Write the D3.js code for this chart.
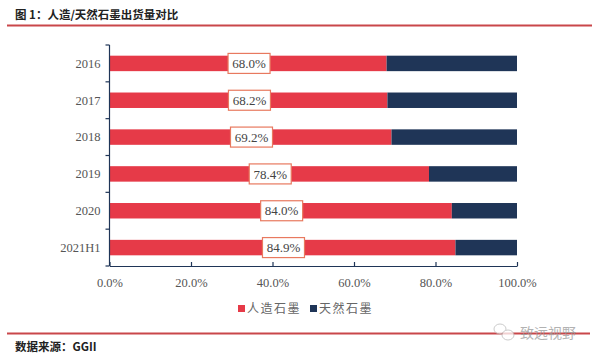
<!DOCTYPE html>
<html><head><meta charset="utf-8">
<script src="https://cdn.jsdelivr.net/npm/d3@7"></script>
<style>body{margin:0;background:#fff}svg{display:block}</style>
</head><body>
<svg id="c" width="600" height="360"></svg>
<script>
const categories = ["2016","2017","2018","2019","2020","2021H1"];
const artificial = [68.0, 68.2, 69.2, 78.4, 84.0, 84.9];
const natural = [32.0, 31.8, 30.8, 21.6, 16.0, 15.1];
const xTicks = [0, 20, 40, 60, 80, 100];
const seriesNames = ["人造石墨", "天然石墨"];
const colors = ["#e63a48", "#1f3557"];

const svg = d3.select("#c");
const serif = "'Liberation Serif','DejaVu Serif',serif";
const cjk = "'Noto Sans CJK SC','Noto Sans',sans-serif";

// title
svg.append("text").attr("x", 15).attr("y", 19).attr("font-family", cjk).attr("font-weight", "bold")
  .attr("font-size", 11.5).attr("fill", "#222").text("图 1：人造/天然石墨出货量对比");
svg.append("line").attr("x1", 7).attr("x2", 592).attr("y1", 25.5).attr("y2", 25.5)
  .attr("stroke", "#c9474a").attr("stroke-width", 2);

const x = d3.scaleLinear().domain([0, 100]).range([109.5, 517]);
const y = d3.scaleBand().domain(categories).range([45, 266]).paddingInner(0.58).paddingOuter(0.29);

const stackData = categories.map((c, i) => ({cat: c, a: artificial[i], n: natural[i]}));
const stack = d3.stack().keys(["a", "n"])(stackData);

svg.append("g").selectAll("g").data(stack).join("g").attr("fill", (d, i) => colors[i])
  .selectAll("rect").data(d => d).join("rect")
  .attr("x", d => x(d[0])).attr("width", d => x(d[1]) - x(d[0]))
  .attr("y", d => y(d.data.cat)).attr("height", y.bandwidth());

// y axis
const gy = svg.append("g").attr("transform", "translate(109.5,0)");
gy.append("path").attr("d", "M0,45V266").attr("stroke", "#1f3557").attr("stroke-width", 1.2).attr("fill", "none");
const yb = d3.scaleBand().domain(categories).range([45, 266]);
gy.selectAll("line.tk").data(d3.range(categories.length + 1)).join("line")
  .attr("x1", -4).attr("x2", 0)
  .attr("y1", i => 45 + i * yb.step()).attr("y2", i => 45 + i * yb.step())
  .attr("stroke", "#1f3557").attr("stroke-width", 1.2);
gy.selectAll("text").data(categories).join("text")
  .attr("x", -9).attr("y", d => y(d) + y.bandwidth() / 2).attr("dy", "0.35em")
  .attr("text-anchor", "end").attr("font-family", serif).attr("font-size", 12.5).attr("fill", "#555")
  .text(d => d);

// x axis
const gx = svg.append("g").attr("transform", "translate(0,266)")
  .call(d3.axisBottom(x).tickValues(xTicks).tickFormat(d => d.toFixed(1) + "%").tickSize(4).tickSizeOuter(0).tickPadding(6));
gx.select(".domain").attr("stroke", "#1f3557").attr("stroke-width", 1.2);
gx.selectAll(".tick line").attr("stroke", "#1f3557").attr("stroke-width", 1.2).attr("y2", -4);
gx.selectAll(".tick text").attr("font-family", serif).attr("font-size", 12.5).attr("fill", "#555").attr("dy", "0.9em");

// labels
const lbl = svg.append("g").selectAll("g").data(stackData).join("g")
  .attr("transform", d => `translate(${(x(0) + x(d.a)) / 2 + 1},${y(d.cat) + y.bandwidth() / 2})`);
lbl.append("rect").attr("x", -21).attr("y", -10).attr("width", 42).attr("height", 20)
  .attr("fill", "#fff").attr("stroke", "#e8795f").attr("stroke-width", 1.2);
lbl.append("text").attr("text-anchor", "middle").attr("dy", "0.36em")
  .attr("font-family", serif).attr("font-size", 13).attr("fill", "#444").text(d => d.a.toFixed(1) + "%");

// legend
const legX = [238, 310];
const leg = svg.append("g").selectAll("g").data(seriesNames).join("g")
  .attr("transform", (d, i) => `translate(${legX[i]},309)`);
leg.append("rect").attr("x", 0).attr("y", -4).attr("width", 7).attr("height", 7).attr("fill", (d, i) => colors[i]);
leg.append("text").attr("x", 9).attr("dy", "0.35em").attr("font-family", cjk).attr("font-size", 12)
  .attr("fill", "#666").attr("letter-spacing", 1.5).text(d => d);

// bottom line and source
svg.append("line").attr("x1", 7).attr("x2", 590).attr("y1", 333.5).attr("y2", 333.5)
  .attr("stroke", "#c9474a").attr("stroke-width", 2);
svg.append("text").attr("x", 15).attr("y", 351).attr("font-family", cjk).attr("font-weight", "bold")
  .attr("font-size", 11.5).attr("fill", "#222").text("数据来源：GGII");

// watermark
const wm = svg.append("g").attr("opacity", 0.75);
wm.append("ellipse").attr("cx", 500).attr("cy", 329).attr("rx", 6).attr("ry", 5).attr("fill", "#fff").attr("stroke", "#bbb");
wm.append("ellipse").attr("cx", 508).attr("cy", 335).attr("rx", 6).attr("ry", 5).attr("fill", "#fff").attr("stroke", "#bbb");
wm.append("text").attr("x", 520).attr("y", 338).attr("font-family", cjk).attr("font-size", 14)
  .attr("fill", "#999").text("致远视野");
</script>
</body></html>
